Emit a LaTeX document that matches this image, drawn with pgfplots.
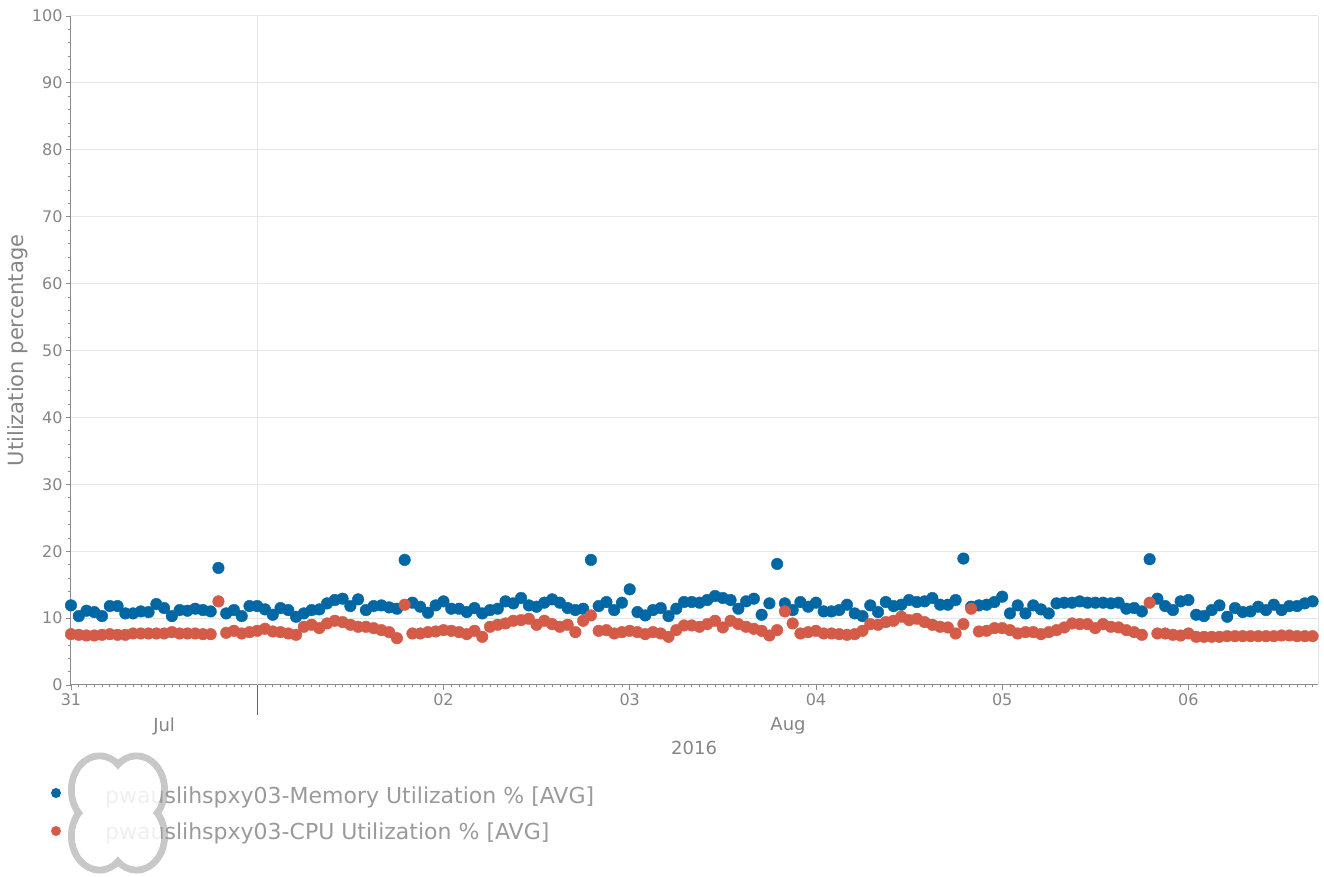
\documentclass[border=0pt]{standalone}
\usepackage{fontspec}
\setmainfont{DejaVu Sans}
\usepackage{pgfplots}
\usepackage{pgfplotstable}
\pgfplotsset{compat=1.18}
\usetikzlibrary{calc}
\definecolor{memblue}{HTML}{0067A5}
\definecolor{cpured}{HTML}{D45B47}
\definecolor{gridgray}{HTML}{E6E6E6}
\definecolor{axgray}{HTML}{8C8C8C}
\definecolor{txtgray}{HTML}{858585}
\definecolor{leggray}{HTML}{9A9A9A}
\definecolor{cloudgray}{HTML}{C8C8C8}

\pgfplotstableread{
h v
0 11.9
1 10.3
2 11.1
3 10.9
4 10.3
5 11.8
6 11.8
7 10.7
8 10.7
9 11.0
10 10.9
11 12.1
12 11.5
13 10.3
14 11.2
15 11.1
16 11.4
17 11.2
18 11.0
19 17.5
20 10.7
21 11.2
22 10.3
23 11.8
24 11.8
25 11.3
26 10.5
27 11.5
28 11.2
29 10.2
30 10.7
31 11.2
32 11.3
33 12.2
34 12.7
35 12.9
36 11.8
37 12.8
38 11.2
39 11.8
40 11.9
41 11.6
42 11.4
43 18.7
44 12.3
45 11.7
46 10.8
47 11.9
48 12.5
49 11.4
50 11.4
51 10.9
52 11.5
53 10.7
54 11.2
55 11.4
56 12.5
57 12.2
58 13.0
59 11.9
60 11.7
61 12.3
62 12.8
63 12.3
64 11.5
65 11.2
66 11.4
67 18.7
68 11.8
69 12.4
70 11.2
71 12.3
72 14.3
73 10.9
74 10.4
75 11.2
76 11.5
77 10.3
78 11.4
79 12.4
80 12.4
81 12.3
82 12.7
83 13.3
84 13.0
85 12.7
86 11.4
87 12.5
88 12.9
89 10.5
90 12.2
91 18.1
92 12.2
93 11.2
94 12.4
95 11.7
96 12.3
97 11.0
98 11.0
99 11.2
100 12.0
101 10.7
102 10.3
103 11.9
104 10.9
105 12.4
106 11.8
107 12.0
108 12.7
109 12.4
110 12.5
111 13.0
112 12.0
113 12.0
114 12.7
115 18.9
116 11.7
117 11.9
118 12.0
119 12.4
120 13.2
121 10.7
122 11.9
123 10.7
124 11.9
125 11.3
126 10.7
127 12.2
128 12.3
129 12.3
130 12.5
131 12.3
132 12.3
133 12.3
134 12.2
135 12.3
136 11.4
137 11.5
138 11.0
139 18.8
140 12.9
141 11.8
142 11.2
143 12.5
144 12.7
145 10.5
146 10.3
147 11.2
148 11.9
149 10.2
150 11.5
151 10.9
152 11.0
153 11.7
154 11.2
155 12.0
156 11.2
157 11.8
158 11.8
159 12.2
160 12.5
}\memtable

\pgfplotstableread{
h v
0 7.6
1 7.5
2 7.4
3 7.4
4 7.5
5 7.6
6 7.5
7 7.5
8 7.7
9 7.7
10 7.7
11 7.7
12 7.7
13 7.9
14 7.7
15 7.7
16 7.7
17 7.6
18 7.6
19 12.5
20 7.8
21 8.1
22 7.7
23 7.9
24 8.1
25 8.4
26 8.0
27 7.9
28 7.7
29 7.5
30 8.7
31 9.0
32 8.5
33 9.2
34 9.6
35 9.4
36 9.0
37 8.7
38 8.7
39 8.5
40 8.2
41 7.9
42 7.0
43 12.0
44 7.7
45 7.7
46 7.9
47 8.0
48 8.2
49 8.1
50 7.9
51 7.6
52 8.1
53 7.2
54 8.7
55 9.0
56 9.2
57 9.6
58 9.7
59 9.9
60 9.0
61 9.6
62 9.1
63 8.7
64 9.0
65 7.9
66 9.6
67 10.4
68 8.1
69 8.2
70 7.7
71 7.9
72 8.1
73 7.9
74 7.6
75 7.9
76 7.7
77 7.2
78 8.2
79 8.9
80 8.9
81 8.7
82 9.1
83 9.6
84 8.6
85 9.6
86 9.1
87 8.7
88 8.4
89 8.1
90 7.4
91 8.2
92 11.0
93 9.2
94 7.7
95 7.9
96 8.1
97 7.7
98 7.7
99 7.6
100 7.5
101 7.6
102 8.1
103 9.1
104 9.0
105 9.4
106 9.6
107 10.2
108 9.7
109 9.9
110 9.4
111 9.0
112 8.7
113 8.6
114 7.7
115 9.1
116 11.4
117 8.0
118 8.1
119 8.5
120 8.5
121 8.2
122 7.7
123 7.9
124 7.9
125 7.6
126 7.9
127 8.2
128 8.6
129 9.2
130 9.1
131 9.1
132 8.5
133 9.1
134 8.7
135 8.6
136 8.2
137 7.9
138 7.5
139 12.3
140 7.7
141 7.7
142 7.5
143 7.4
144 7.7
145 7.2
146 7.2
147 7.2
148 7.2
149 7.3
150 7.3
151 7.3
152 7.3
153 7.3
154 7.3
155 7.3
156 7.4
157 7.4
158 7.3
159 7.3
160 7.3
}\cputable

\newcommand{\lobes}[1]{%
  \fill[white] ($(ll)+(28.5pt,-105pt)$) ellipse (#1);
  \fill[white] ($(ll)+(65.5pt,-105pt)$) ellipse (#1);
  \fill[white] ($(ll)+(28.5pt,-151pt)$) ellipse (#1);
  \fill[white] ($(ll)+(65.5pt,-151pt)$) ellipse (#1);
  \fill[white] ($(ll)+(35pt,-140pt)$) rectangle ($(ll)+(59pt,-116pt)$);}

\begin{document}
\begin{tikzpicture}
\begin{axis}[
  scale only axis, width=1247pt, height=669pt,
  xmin=0, xmax=160.7, ymin=0, ymax=100,
  axis x line=bottom, axis y line=left,
  axis line style={-, draw=axgray, line width=1pt},
  ytick={0,10,...,100}, minor y tick num=4,
  xtick={0,48,72,96,120,144}, xticklabels={31,02,03,04,05,06},
  minor xtick={1,...,160},
  tick align=outside,
  major tick length=5pt, minor tick length=2.5pt,
  tick style={draw=axgray, line width=0.8pt},
  minor tick style={draw=axgray, line width=0.6pt},
  ymajorgrids, grid style={draw=gridgray, line width=1pt},
  /pgf/number format/assume math mode=true,
  yticklabel style={font=\fontsize{16}{18}\selectfont, text=txtgray},
  xticklabel style={font=\fontsize{16}{18}\selectfont, text=txtgray},
  clip=false,
]
\draw[gridgray, line width=1pt] (axis cs:24,0) -- (axis cs:24,100);
\draw[gridgray, line width=1pt] (rel axis cs:1,0) -- (rel axis cs:1,1);
\draw[black!60, line width=1pt] (axis cs:24,0) -- ++(0,-30pt);
\addplot[only marks, mark=*, mark size=5.8pt, color=memblue, mark options={draw=none, fill=memblue}] table[x=h, y=v]{\memtable};
\addplot[only marks, mark=*, mark size=5.8pt, color=cpured, mark options={draw=none, fill=cpured}] table[x=h, y=v]{\cputable};
\path (axis cs:12,0) ++(0,-41pt) node[text=txtgray, font=\fontsize{18}{20}\selectfont] {Jul};
\path (axis cs:92.4,0) ++(0,-41pt) node[text=txtgray, font=\fontsize{18}{20}\selectfont] {Aug};
\path (axis cs:80.3,0) ++(0,-63pt) node[text=txtgray, font=\fontsize{18}{20}\selectfont] {2016};
\path (rel axis cs:0,0.5) ++(-53pt,0) node[rotate=90, text=txtgray, font=\fontsize{21}{24}\selectfont] {Utilization percentage};
\coordinate (ll) at (rel axis cs:0,0);
\coordinate (ur) at (rel axis cs:1,1);
\end{axis}
% overlay cloud outline (union of four lobes)
\draw[cloudgray, line width=7pt]
  ($(ll)+(28.5pt,-105pt)$) ellipse (28pt and 34pt)
  ($(ll)+(65.5pt,-105pt)$) ellipse (28pt and 34pt)
  ($(ll)+(28.5pt,-151pt)$) ellipse (28pt and 34pt)
  ($(ll)+(65.5pt,-151pt)$) ellipse (28pt and 34pt);
\lobes{24.5pt and 30.5pt}
% legend
\fill[memblue] ($(ll)+(-15pt,-108pt)$) circle (5pt);
\fill[cpured] ($(ll)+(-15pt,-146pt)$) circle (5pt);
\node[anchor=west, inner sep=0pt, text=leggray, font=\fontsize{22}{26}\selectfont] at ($(ll)+(34pt,-112pt)$) {pwauslihspxy03-Memory Utilization \% [AVG]};
\node[anchor=west, inner sep=0pt, text=leggray, font=\fontsize{22}{26}\selectfont] at ($(ll)+(34pt,-148pt)$) {pwauslihspxy03-CPU Utilization \% [AVG]};
% translucent veil inside the cloud
\begin{scope}[transparency group, opacity=0.85]
\lobes{24.5pt and 30.5pt}
\end{scope}
\pgfresetboundingbox
\path[use as bounding box] ($(ll)+(-71pt,-192pt)$) rectangle ($(ur)+(6pt,16pt)$);
\end{tikzpicture}
\end{document}
